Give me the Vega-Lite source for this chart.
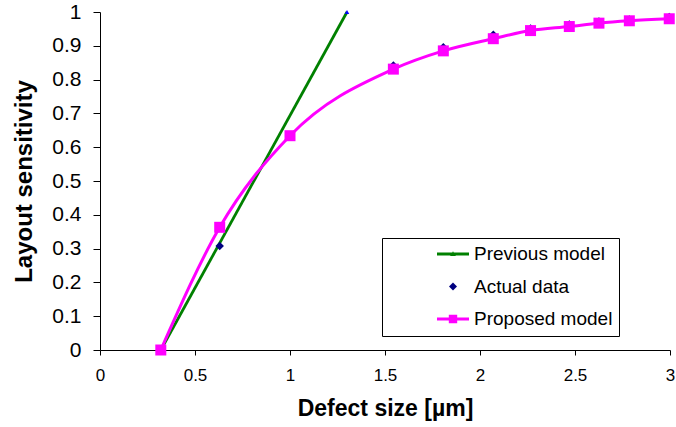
{
  "$schema": "https://vega.github.io/schema/vega-lite/v6.json",
  "width": 570,
  "height": 338,
  "autosize": {"type": "none"},
  "padding": {"left": 100, "top": 12, "right": 6, "bottom": 77},
  "background": "white",
  "config": {
    "view": {"stroke": null},
    "font": "Liberation Sans",
    "axis": {"grid": false, "domainColor": "black", "tickColor": "black", "labelColor": "black", "titleColor": "black", "labelFont": "Liberation Sans", "titleFont": "Liberation Sans", "labelFlush": false, "labelOverlap": false, "labelBound": false}
  },
  "data": {
    "values": [
      {"series": "Previous model", "x": 0.32, "y": 0},
      {"series": "Previous model", "x": 1.3, "y": 1},
      {"series": "Actual data", "x": 0.32, "y": 0},
      {"series": "Actual data", "x": 0.63, "y": 0.308},
      {"series": "Actual data", "x": 1.0, "y": 0.632},
      {"series": "Actual data", "x": 1.544, "y": 0.842},
      {"series": "Actual data", "x": 1.807, "y": 0.896},
      {"series": "Actual data", "x": 2.07, "y": 0.933},
      {"series": "Actual data", "x": 2.266, "y": 0.951},
      {"series": "Actual data", "x": 2.47, "y": 0.963},
      {"series": "Actual data", "x": 2.626, "y": 0.972},
      {"series": "Actual data", "x": 2.786, "y": 0.978},
      {"series": "Actual data", "x": 2.996, "y": 0.985},
      {"series": "Proposed model", "x": 0.32, "y": 0},
      {"series": "Proposed model", "x": 0.63, "y": 0.363},
      {"series": "Proposed model", "x": 1.0, "y": 0.634},
      {"series": "Proposed model", "x": 1.544, "y": 0.831},
      {"series": "Proposed model", "x": 1.807, "y": 0.885},
      {"series": "Proposed model", "x": 2.07, "y": 0.921},
      {"series": "Proposed model", "x": 2.266, "y": 0.945},
      {"series": "Proposed model", "x": 2.47, "y": 0.957},
      {"series": "Proposed model", "x": 2.626, "y": 0.967},
      {"series": "Proposed model", "x": 2.786, "y": 0.974},
      {"series": "Proposed model", "x": 2.996, "y": 0.98}
    ]
  },
  "encoding": {
    "x": {
      "field": "x", "type": "quantitative",
      "scale": {"domain": [0, 3], "nice": false, "zero": false},
      "axis": {"values": [0, 0.5, 1, 1.5, 2, 2.5, 3], "format": ".1~f", "title": "Defect size [µm]", "labelFontSize": 17, "tickSize": 5, "labelPadding": 12, "titleFontSize": 23, "titleFontWeight": "bold", "titlePadding": 14}
    },
    "y": {
      "field": "y", "type": "quantitative",
      "scale": {"domain": [0, 1], "nice": false},
      "axis": {"values": [0, 0.1, 0.2, 0.3, 0.4, 0.5, 0.6, 0.7, 0.8, 0.9, 1], "format": ".1~f", "title": "Layout sensitivity", "labelFontSize": 21, "tickSize": 7, "labelPadding": 12, "titleFontSize": 24, "titleFontWeight": "bold", "titlePadding": 15}
    }
  },
  "layer": [
    {
      "transform": [{"filter": "datum.series === 'Previous model'"}],
      "mark": {"type": "line", "color": "#008000", "strokeWidth": 2.8}
    },
    {
      "transform": [{"filter": "datum.series === 'Previous model'"}],
      "mark": {"type": "point", "shape": "triangle-up", "filled": true, "size": 20, "color": "#0000FF", "opacity": 1}
    },
    {
      "transform": [{"filter": "datum.series === 'Actual data'"}],
      "mark": {"type": "point", "filled": true, "size": 72, "opacity": 1},
      "encoding": {
        "color": {
          "field": "series", "type": "nominal",
          "scale": {"domain": ["Previous model", "Actual data", "Proposed model"], "range": ["#008000", "#000080", "#FF00FF"]},
          "legend": {
            "title": null, "orient": "none", "legendX": 282, "legendY": 226, "direction": "vertical",
            "strokeColor": "black", "fillColor": "white", "padding": 6.5, "rowPadding": 12.5,
            "symbolSize": 64, "symbolOffset": 55, "labelOffset": 11.5,
            "labelFontSize": 19, "labelFont": "Liberation Sans", "labelColor": "black", "labelLimit": 0,
            "labelExpr": "datum.label + '\u00a0\u00a0\u00a0\u00a0\u00a0\u00a0\u00a0\u00a0\u00a0'"
          }
        },
        "shape": {
          "field": "series", "type": "nominal",
          "scale": {"domain": ["Previous model", "Actual data", "Proposed model"], "range": ["M-4,-0.35H4V0.35H-4Z M-0.7,0.5L0,-0.7L0.7,0.5Z", "diamond", "M-4,-0.35H4V0.35H-4Z M-1.05,-1.05H1.05V1.05H-1.05Z"]},
          "legend": {
            "title": null, "orient": "none", "legendX": 282, "legendY": 226, "direction": "vertical",
            "strokeColor": "black", "fillColor": "white", "padding": 6.5, "rowPadding": 12.5,
            "symbolSize": 64, "symbolOffset": 55, "labelOffset": 11.5,
            "labelFontSize": 19, "labelFont": "Liberation Sans", "labelColor": "black", "labelLimit": 0,
            "labelExpr": "datum.label + '\u00a0\u00a0\u00a0\u00a0\u00a0\u00a0\u00a0\u00a0\u00a0'"
          }
        }
      }
    },
    {
      "transform": [{"filter": "datum.series === 'Proposed model'"}],
      "mark": {"type": "line", "color": "#FF00FF", "strokeWidth": 3, "interpolate": "monotone"}
    },
    {
      "transform": [{"filter": "datum.series === 'Proposed model'"}],
      "mark": {"type": "point", "shape": "square", "filled": true, "size": 121, "opacity": 1, "color": "#FF00FF"}
    },
    {
      "data": {"values": [{"label": "w=0.32 µm\ns=0.32 µm\nd=0.6"}]},
      "mark": {"type": "text", "align": "left", "baseline": "top", "fontSize": 18, "fontWeight": "bold", "lineBreak": "\n", "lineHeight": 24, "font": "Liberation Sans", "color": "black"},
      "encoding": {
        "x": {"datum": 0.384},
        "y": {"datum": 0.965},
        "text": {"field": "label"}
      }
    }
  ]
}
